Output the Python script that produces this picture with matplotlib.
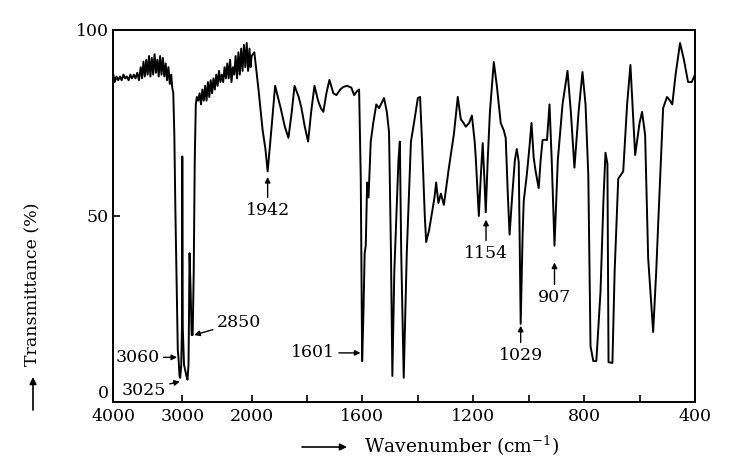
import numpy as np
import matplotlib
matplotlib.use("Agg")
import matplotlib.pyplot as plt

plt.rcParams['font.family'] = ['DejaVu Serif']
plt.rcParams['mathtext.fontset'] = 'dejavuserif'

# spectrum (wavenumber in cm-1, transmittance in %)
wavenumber = [
    4000, 3975, 3950, 3925, 3900, 3875, 3850, 3825, 3800, 3775, 3750, 3725, 3700, 3675,
    3650, 3625, 3600, 3580, 3560, 3540, 3520, 3500, 3480, 3460, 3440, 3420, 3400, 3380,
    3360, 3340, 3320, 3300, 3280, 3260, 3240, 3220, 3200, 3180, 3160, 3145,
    3130, 3115, 3100, 3080, 3065, 3055, 3040, 3030, 3015, 3005, 3000, 2993, 2975, 2940,
    2925, 2910, 2895, 2880, 2865, 2850, 2835, 2820, 2805, 2790,
    2770, 2750, 2730, 2710, 2690, 2670, 2650, 2630, 2610, 2590, 2570, 2550, 2530, 2510,
    2490, 2470, 2450, 2430, 2410, 2390, 2370, 2350, 2330, 2310, 2290, 2270, 2250, 2230,
    2210, 2190, 2170, 2150, 2130, 2110, 2090, 2070, 2050, 2030, 2015, 2000,
    1990, 1975, 1960, 1950, 1942, 1930, 1915, 1895, 1880, 1867, 1855, 1845, 1830, 1820,
    1808, 1796, 1785, 1773, 1760, 1750, 1741, 1730, 1719, 1705, 1694, 1680, 1669, 1655,
    1640, 1630, 1620, 1612, 1606, 1601, 1596, 1592, 1588, 1583, 1578, 1570, 1561, 1550,
    1540, 1530, 1522, 1512, 1504, 1497, 1492, 1485, 1470, 1465, 1460, 1451, 1440, 1425,
    1414, 1400, 1392, 1385, 1375, 1370, 1360, 1352, 1340, 1334, 1326, 1317, 1306, 1297,
    1288, 1270, 1256, 1245, 1235, 1227, 1215, 1205, 1195, 1191, 1180, 1172, 1166, 1160,
    1155, 1148, 1140, 1126, 1115, 1101, 1090, 1083, 1075, 1069, 1060, 1050, 1043, 1036,
    1029, 1022, 1018, 1007, 998, 990, 982, 975, 964, 957, 950, 940, 934, 925,
    917, 907, 895, 878, 860, 848, 835, 820, 806, 795, 785, 777, 767, 756,
    741, 730, 723, 716, 712, 698, 690, 677, 668, 659, 645, 633, 616, 600,
    591, 580, 569, 551, 540, 533, 515, 501, 490, 482, 470, 454, 440, 425,
    412, 400,
]
transmittance = [
    88.5, 86, 87.5, 86.5, 87.5, 86.5, 88, 87, 87.5, 86.5, 88, 87, 88, 87,
    88.5, 86.5, 90, 87, 91.5, 87.5, 92, 88, 93, 87.5, 92.5, 88, 93.5, 88.5,
    92, 87.5, 93, 88, 92.5, 87.5, 91, 86.5, 90, 85.5, 88, 84.5,
    83, 72, 52, 30, 14, 12, 7, 6.5, 10, 20, 66, 20, 10, 7,
    6, 10, 40, 30, 18, 18, 35, 65, 80, 82,
    81, 83, 80, 84, 81, 85, 81, 86, 82, 86.5, 83, 87, 84, 88,
    85, 89, 86, 88, 86, 90, 87, 91, 87, 92, 86, 90, 88, 93,
    87, 94, 88, 95, 89, 96, 90, 96.5, 89, 95, 90, 93,
    94, 84, 73, 68, 62, 72, 85, 79, 74, 71, 78, 85, 82, 79,
    74, 70, 78, 85, 81, 79, 78, 83, 86.6, 83, 82.5, 84, 84.7, 85,
    84.5, 82.5, 83.5, 84, 60, 11, 25, 40, 42, 59, 55, 70, 75, 80,
    79, 80.5, 81.7, 78, 72.6, 40, 7, 35, 65, 70, 40, 6.5, 40, 70,
    75, 81.7, 82, 70, 50, 43, 46, 49.5, 55, 59, 53.5, 56, 53, 58,
    63, 72, 82, 76, 75, 74, 75, 77, 70, 65.6, 50, 62, 69.6, 60,
    51, 65, 78, 91.4, 85, 75, 73, 71, 55, 45, 55, 65, 68, 64.5,
    21, 45, 54, 61, 68, 75, 65.6, 62, 57.5, 65, 70.4, 70.5, 70.4, 80,
    65, 42, 65, 80, 89, 78, 63, 78, 88.7, 80, 61, 15, 11, 11,
    29.6, 55, 67, 64, 10.7, 10.5, 35, 60, 61, 62, 80, 90.6, 66.4, 75,
    78, 71.8, 38.7, 18.8, 35, 47.6, 79, 82, 81, 80, 88, 96.5, 92, 86,
    86, 88,
]

major_ticks = [4000, 3000, 2000, 1600, 1200, 800, 400]
minor_ticks = [1800, 1400, 1000, 600]


# the chart is drawn at four times the scale below 2000 cm-1
def fwd(w):
    w = np.asarray(w, dtype=float)
    return np.where(w <= 2000, w, 2000 + (w - 2000) / 4)


def inv(u):
    u = np.asarray(u, dtype=float)
    return np.where(u <= 2000, u, 2000 + (u - 2000) * 4)


fig = plt.figure(figsize=(7.32, 4.68), dpi=100)
ax = fig.add_axes([113 / 732, 1 - 402 / 468, 582 / 732, 372 / 468])
ax.set_xscale('function', functions=(fwd, inv))
ax.plot(wavenumber, transmittance, color='black', lw=1.4)
ax.set_xlim(4000, 400)
ax.set_ylim(0, 100)

fs = 12.5
ax.set_xticks(major_ticks)
ax.set_xticklabels([str(t) for t in major_ticks])
ax.set_xticks(minor_ticks, minor=True)
ax.set_yticks([0, 50, 100])
ax.tick_params(which='both', direction='in', length=5, width=1.2, labelsize=fs)
ax.tick_params(axis='x', pad=4)
ax.tick_params(axis='y', pad=3)
ax.get_yticklabels()[0].set_va('bottom')
for s in ax.spines.values():
    s.set_linewidth(1.4)

arrow = dict(arrowstyle='-|>', color='black', lw=1.0, mutation_scale=8, shrinkA=1, shrinkB=0)
ax.annotate('1942', xy=(1942, 60.5), xytext=(1942, 51.6), ha='center', va='center', fontsize=fs, arrowprops=arrow)
ax.annotate('1154', xy=(1154, 49), xytext=(1154, 40), ha='center', va='center', fontsize=fs, arrowprops=arrow)
ax.annotate('1029', xy=(1029, 20.5), xytext=(1029, 12.6), ha='center', va='center', fontsize=fs, arrowprops=arrow)
ax.annotate('907', xy=(907, 37.5), xytext=(907, 28.2), ha='center', va='center', fontsize=fs, arrowprops=arrow)
ax.annotate('1601', xy=(1607, 13.2), xytext=(1700, 13.2), ha='right', va='center', fontsize=fs, arrowprops=arrow)
ax.annotate('3060', xy=(3075, 12), xytext=(3330, 12), ha='right', va='center', fontsize=fs, arrowprops=arrow)
ax.annotate('3025', xy=(3035, 5.5), xytext=(3240, 3.2), ha='right', va='center', fontsize=fs, arrowprops=arrow)
ax.annotate('2850', xy=(2828, 18), xytext=(2500, 21.5), ha='left', va='center', fontsize=fs, arrowprops=arrow)

# axis titles with their arrows
fig.text(462 / 732, 1 - 446 / 468, 'Wavenumber (cm$^{-1}$)', ha='center', va='center', fontsize=13.5)
fig.text(33 / 732, 1 - 284 / 468, 'Transmittance (%)', ha='center', va='center', rotation=90, fontsize=12.5)
big = dict(arrowstyle='-|>', color='black', lw=1.2, mutation_scale=10, shrinkA=0, shrinkB=0)
fig.add_artist(matplotlib.patches.FancyArrowPatch((302 / 732, 1 - 447 / 468), (347 / 732, 1 - 447 / 468),
                                                  transform=fig.transFigure, **big))
fig.add_artist(matplotlib.patches.FancyArrowPatch((33 / 732, 1 - 410 / 468), (33 / 732, 1 - 377 / 468),
                                                  transform=fig.transFigure, **big))

fig.savefig('out.png', dpi=100)
